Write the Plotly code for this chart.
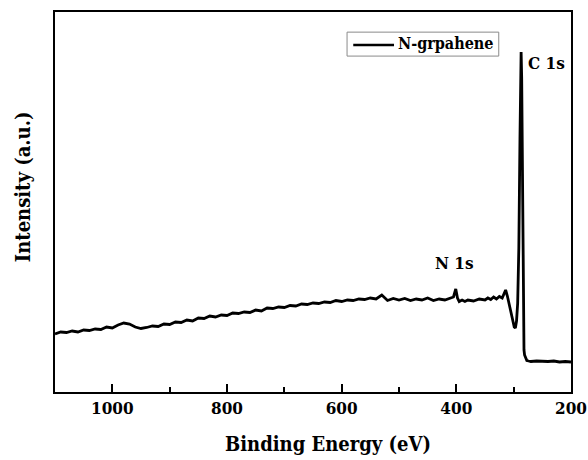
import plotly.graph_objects as go

energy = [1100, 1090, 1080, 1070, 1060, 1050, 1040, 1030, 1020, 1010,
          1000, 990, 980, 970, 960, 950, 940, 930, 920, 910,
          900, 890, 880, 870, 860, 850, 840, 830, 820, 810,
          800, 790, 780, 770, 760, 750, 740, 730, 720, 710,
          700, 690, 680, 670, 660, 650, 640, 630, 620, 610,
          600, 590, 580, 570, 560, 550, 540, 530, 520, 510,
          500, 490, 480, 470, 460, 450, 440, 430, 420, 410,
          405, 401, 398, 395, 390, 385, 380, 370, 360, 350,
          345, 340, 335, 330, 325, 320, 317, 314, 311, 308,
          305, 302, 299, 297, 295, 293, 291, 289, 288, 287,
          286, 285, 284, 283, 282, 281, 279, 277, 274, 270,
          260, 250, 240, 230, 220, 210, 200]

intensity = [84, 86, 85.5, 87, 86, 88, 87.5, 89, 88.5, 91,
             90, 93, 95, 94, 91, 89.5, 90.5, 92, 91.5, 94,
             93.5, 96, 95.5, 98, 97, 100, 99.5, 102, 101, 103,
             102.5, 105, 104.5, 106, 105.5, 108, 107, 110, 109.5, 111,
             110.5, 112.5, 112, 114, 113.5, 115, 114.5, 116, 115.5, 117.5,
             116.5, 118, 117.5, 119, 118.5, 120, 119, 123, 117.5, 119.5,
             118, 119.5, 117.5, 119, 118, 120, 117.5, 119, 118, 119.5,
             121, 129, 120, 116.5, 118, 116.5, 118, 117, 119, 118,
             120, 118.5, 121, 119, 121.5, 120, 124, 128, 122, 114,
             106, 97, 91, 90, 97, 115, 170, 280, 340, 366,
             340, 250, 150, 85, 68, 63, 59, 57.5, 57, 56.5,
             57, 56.5, 56.5, 57, 56, 56.5, 56]

x_ticks = [1000, 800, 600, 400, 200]
series_name = "N-grpahene"
peak_labels = ["C 1s", "N 1s"]
peak_label_pos = [(242, 355), (404, 155)]
x_title = "Binding Energy (eV)"
y_title = "Intensity (a.u.)"

FONT = "DejaVu Serif Condensed, DejaVu Serif"

fig = go.Figure()
fig.add_trace(go.Scatter(x=energy, y=intensity, mode="lines", name=series_name,
                         line=dict(color="black", width=2.8), showlegend=False))

for txt, (px, py) in zip(peak_labels, peak_label_pos):
    fig.add_annotation(x=px, y=py, text="<b>%s</b>" % txt, showarrow=False,
                       font=dict(family=FONT, size=17, color="black"))

# legend box (drawn by hand to match the reference's compact legend)
fig.add_shape(type="rect", xref="paper", yref="paper", x0=0.566, x1=0.860, y0=0.884, y1=0.947,
              line=dict(color="#8a8a8a", width=1), fillcolor="white", layer="above")
fig.add_shape(type="line", xref="paper", yref="paper", x0=0.578, x1=0.657, y0=0.913, y1=0.913,
              line=dict(color="black", width=2.5), layer="above")
fig.add_annotation(xref="paper", yref="paper", x=0.660, y=0.916, xanchor="left", yanchor="middle",
                   text="<b>%s</b>" % series_name, showarrow=False,
                   font=dict(family=FONT, size=16, color="black"))

fig.add_annotation(xref="paper", yref="paper", x=0.529, y=-0.137, yanchor="middle",
                   text="<b>%s</b>" % x_title, showarrow=False,
                   font=dict(family=FONT, size=20, color="black"))
fig.add_annotation(xref="paper", yref="paper", x=-0.062, y=0.539, xanchor="center",
                   yanchor="middle", textangle=-90,
                   text="<b>%s</b>" % y_title, showarrow=False,
                   font=dict(family=FONT, size=20, color="black"))

fig.update_layout(
    width=588, height=460,
    margin=dict(l=55, r=17, t=12, b=68, autoexpand=False),
    plot_bgcolor="white", paper_bgcolor="white",
    showlegend=False,
    xaxis=dict(range=[1100, 200], tickvals=x_ticks, ticktext=["<b>%d</b>" % v for v in x_ticks],
               ticks="inside", ticklen=8, tickwidth=2, automargin=False, ticklabeloverflow="allow",
               tickcolor="black", showline=True, linecolor="black", linewidth=2, mirror=True,
               showgrid=False, zeroline=False,
               minor=dict(dtick=100, tick0=0, ticks="inside", ticklen=5, tickwidth=2, tickcolor="black"),
               tickfont=dict(family=FONT, size=17, color="black")),
    yaxis=dict(range=[26, 406], showticklabels=False, ticks="", showline=True, linecolor="black",
               linewidth=2, mirror=True, showgrid=False, zeroline=False, automargin=False),
)

fig.write_html("out.html")
